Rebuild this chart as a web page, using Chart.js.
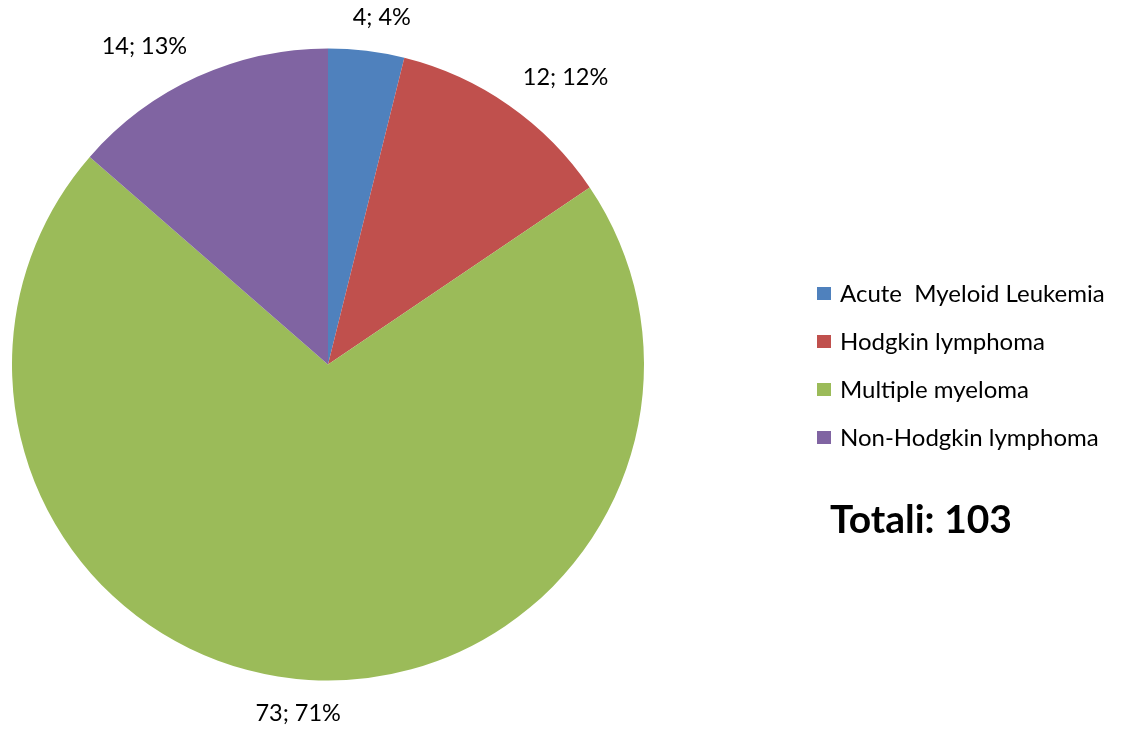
<!DOCTYPE html>
<html>
<head>
<meta charset="utf-8">
<script src="https://cdn.jsdelivr.net/npm/chart.js@4.4.0/dist/chart.umd.min.js"></script>
<style>
  html, body { margin: 0; padding: 0; background: #fff; }
  #wrap { position: relative; width: 1125px; height: 733px; font-family: Lato, "Open Sans", sans-serif; color: #000; }
  #legend { position: absolute; left: 817px; top: 279px; }
  .item { position: relative; height: 48px; font-size: 24px; line-height: 28px; white-space: pre; }
  .box { position: absolute; left: 0; top: 8px; width: 14px; height: 13px; }
  .txt { position: absolute; left: 23px; top: 0; }
  #total { position: absolute; left: 830px; top: 494px; font-size: 39px; font-weight: bold; line-height: 48px; }
</style>
</head>
<body>
<div id="wrap">
  <canvas id="pie" width="1125" height="733"></canvas>
  <div id="legend"></div>
  <div id="total"></div>
</div>
<script>
var categories = ['Acute  Myeloid Leukemia', 'Hodgkin lymphoma', 'Multiple myeloma', 'Non-Hodgkin lymphoma'];
var counts = [4, 12, 73, 14];
var percents = [4, 12, 71, 13];
var colors = ['#4F81BD', '#C0504D', '#9BBB59', '#8064A2'];

var total = counts.reduce(function (a, b) { return a + b; }, 0);

// "n; p%" labels placed just outside each slice
var sliceLabels = {
  id: 'sliceLabels',
  afterDatasetsDraw: function (chart) {
    var ctx = chart.ctx;
    var meta = chart.getDatasetMeta(0);
    ctx.save();
    ctx.font = '23.5px Lato, "Open Sans", sans-serif';
    ctx.fillStyle = '#000';
    ctx.textAlign = 'center';
    ctx.textBaseline = 'middle';
    meta.data.forEach(function (arc, i) {
      var p = arc.getProps(['x', 'y', 'startAngle', 'endAngle', 'outerRadius'], true);
      var mid = (p.startAngle + p.endAngle) / 2;
      var c = Math.cos(mid), s = Math.sin(mid);
      var text = counts[i] + '; ' + percents[i] + '%';
      var w = ctx.measureText(text).width;
      var h = 20;
      var r = p.outerRadius + 24;
      // push the text box sideways when the slice points left or right
      var side = Math.sign(c) * Math.min(1, 3.5 * Math.abs(c));
      var cx = p.x + c * r + side * w / 2;
      var cy = p.y + s * r + s * h / 2;
      ctx.fillText(text, cx, cy);
    });
    ctx.restore();
  }
};

new Chart(document.getElementById('pie'), {
  type: 'pie',
  data: {
    labels: categories,
    datasets: [{
      data: counts,
      backgroundColor: colors,
      borderWidth: 0
    }]
  },
  options: {
    responsive: false,
    animation: false,
    layout: { padding: { left: 12, right: 481, top: 48, bottom: 52 } },
    plugins: {
      legend: { display: false },
      tooltip: { enabled: false }
    }
  },
  plugins: [sliceLabels]
});

var legend = document.getElementById('legend');
categories.forEach(function (name, i) {
  var item = document.createElement('div');
  item.className = 'item';
  var box = document.createElement('span');
  box.className = 'box';
  box.style.background = colors[i];
  var txt = document.createElement('span');
  txt.className = 'txt';
  txt.textContent = name;
  item.appendChild(box);
  item.appendChild(txt);
  legend.appendChild(item);
});

document.getElementById('total').textContent = 'Totali: ' + total;
</script>
</body>
</html>
